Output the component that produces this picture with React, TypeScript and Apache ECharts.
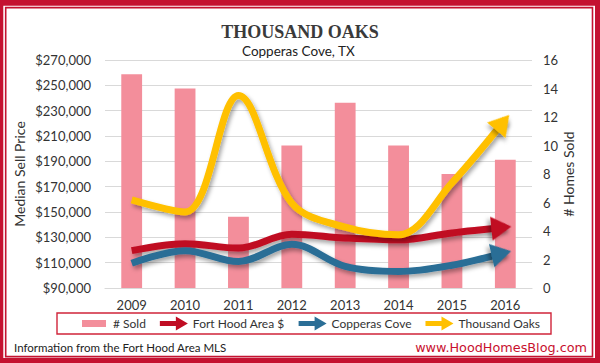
import React, { useEffect, useRef } from 'react';
import * as echarts from 'echarts';

const years = ['2009', '2010', '2011', '2012', '2013', '2014', '2015', '2016'];
const homesSold = [15, 14, 5, 10, 13, 10, 8, 9];
const fortHoodArea = [119500, 125000, 121500, 132500, 129500, 128000, 133500, 138000];
const copperasCove = [109500, 119500, 111000, 124500, 107000, 103000, 108000, 118000];
const thousandOaks = [159500, 150000, 242000, 157000, 138000, 132000, 173000, 223000];
const priceTicks = [90000, 110000, 130000, 150000, 170000, 190000, 210000, 230000, 250000, 270000];

const FONT = 'Lato, "DejaVu Sans", sans-serif';
const TEXT = '#333333';
const FRAME_RED = '#C41230';

const ARROW_ICON = 'path://M0,4.5L16,4.5L16,0L28,7L16,14L16,9.5L0,9.5Z';
const BAR_ICON = 'path://M0,0M28,14M2,3.5L26,3.5L26,10.5L2,10.5Z';

function lineSeries(name: string, values: number[], color: string, rotate: number) {
  const ang = ((rotate + 90) * Math.PI) / 180;
  const back = 4;
  const last = values.length - 1;
  const shadow = {
    shadowColor: 'rgba(0,0,0,0.35)',
    shadowBlur: 4,
    shadowOffsetX: 2,
    shadowOffsetY: 3,
  };
  return {
    type: 'line',
    name,
    yAxisIndex: 0,
    smooth: 0.35,
    symbol: 'none',
    lineStyle: { width: 7, color, cap: 'butt', ...shadow },
    itemStyle: { color, borderWidth: 0, ...shadow },
    emphasis: { disabled: true },
    data: values.map((v, i) =>
      i === last
        ? {
            value: v,
            symbol: 'triangle',
            symbolSize: [24, 20],
            symbolRotate: rotate,
            symbolOffset: [-back * Math.cos(ang), back * Math.sin(ang)],
          }
        : { value: v, symbol: 'none' }
    ),
  };
}

export default function App() {
  const ref = useRef<HTMLDivElement>(null);

  useEffect(() => {
    if (!ref.current) return;
    const chart = echarts.init(ref.current, null, { renderer: 'svg' });
    const option: any = {
      animation: false,
      backgroundColor: FRAME_RED,
      graphic: [
        { type: 'rect', z: -10, shape: { x: 3.3, y: 5.7, width: 591.7, height: 352.3 }, style: { fill: '#ffffff' } },
        {
          type: 'rect',
          z: -9,
          shape: { x: 5.7, y: 7.6, width: 586.8, height: 349 },
          style: { fill: '#ffffff', stroke: FRAME_RED, lineWidth: 1.6 },
        },
        {
          type: 'rect',
          z: 1,
          shape: { x: 57, y: 313, width: 494, height: 21 },
          style: { fill: 'none', stroke: '#D0243A', lineWidth: 1.4 },
        },
        {
          type: 'text',
          z: 5,
          x: 14,
          y: 347,
          style: {
            text: 'Information from the Fort Hood Area MLS',
            fontSize: 11.5,
            fontFamily: FONT,
            fill: '#222222',
            verticalAlign: 'middle',
          },
        },
        {
          type: 'text',
          z: 5,
          x: 587,
          y: 347,
          style: {
            text: 'www.HoodHomesBlog.com',
            fontSize: 12.8,
            fontFamily: '"DejaVu Sans", sans-serif',
            fill: '#C8102E',
            align: 'right',
            verticalAlign: 'middle',
          },
        },
      ],
      title: [
        {
          text: 'THOUSAND OAKS',
          left: 'center',
          top: 23,
          padding: 0,
          textStyle: {
            fontFamily: '"Liberation Serif", "DejaVu Serif", serif',
            fontWeight: 'bold',
            fontSize: 18,
            color: '#3a3a3a',
          },
        },
        {
          text: 'Copperas Cove, TX',
          left: 242,
          top: 44,
          padding: 0,
          textStyle: { fontFamily: FONT, fontWeight: 'normal', fontSize: 13.5, color: '#222222' },
        },
      ],
      legend: {
        left: 80,
        top: 316.5,
        width: 500,
        itemWidth: 28,
        itemHeight: 14,
        itemGap: 14,
        padding: 0,
        textStyle: { fontFamily: FONT, fontSize: 12, color: TEXT },
        data: [
          { name: '# Sold', icon: BAR_ICON },
          { name: 'Fort Hood Area $', icon: ARROW_ICON },
          { name: 'Copperas Cove', icon: ARROW_ICON },
          { name: 'Thousand Oaks', icon: ARROW_ICON },
        ],
      },
      grid: { left: 105, right: 68, top: 60, bottom: 75, containLabel: false },
      xAxis: {
        type: 'category',
        data: years,
        axisLine: { show: true, lineStyle: { color: '#D9D9D9', width: 1.2 } },
        axisTick: { show: false },
        axisLabel: { fontFamily: FONT, fontSize: 13, color: TEXT, margin: 10 },
      },
      yAxis: [
        {
          type: 'value',
          min: 90000,
          max: 270000,
          name: 'Median Sell Price',
          nameLocation: 'middle',
          nameRotate: 90,
          nameGap: 79,
          nameMoveOverlap: false,
          nameTextStyle: { fontFamily: FONT, fontSize: 14, color: TEXT },
          axisLine: { show: false },
          axisTick: { show: false, customValues: priceTicks },
          axisLabel: {
            customValues: priceTicks,
            fontFamily: FONT,
            fontSize: 13,
            color: TEXT,
            margin: 14,
            formatter: (v: number) => '$' + Math.round(v).toLocaleString('en-US'),
          },
          splitLine: { show: true, lineStyle: { color: '#D9D9D9', width: 1.2 } },
        },
        {
          type: 'value',
          min: 0,
          max: 16,
          interval: 2,
          name: '# Homes Sold',
          nameLocation: 'middle',
          nameRotate: 90,
          nameGap: 29,
          nameMoveOverlap: false,
          nameTextStyle: { fontFamily: FONT, fontSize: 14, color: TEXT },
          axisLine: { show: false },
          axisTick: { show: false },
          axisLabel: { fontFamily: FONT, fontSize: 13, color: TEXT, margin: 11 },
          splitLine: { show: false },
        },
      ],
      series: [
        {
          type: 'bar',
          name: '# Sold',
          yAxisIndex: 1,
          barWidth: '39%',
          itemStyle: { color: '#F38E9B' },
          emphasis: { disabled: true },
          data: homesSold,
        },
        lineSeries('Fort Hood Area $', fortHoodArea, '#C00D23', -84),
        lineSeries('Copperas Cove', copperasCove, '#2B6E96', -77),
        lineSeries('Thousand Oaks', thousandOaks, '#FFC000', -40),
      ],
    };
    chart.setOption(option);
    return () => chart.dispose();
  }, []);

  return (
    <div
      ref={ref}
      style={{ position: 'fixed', left: 0, top: 0, width: 600, height: 363 }}
    />
  );
}
